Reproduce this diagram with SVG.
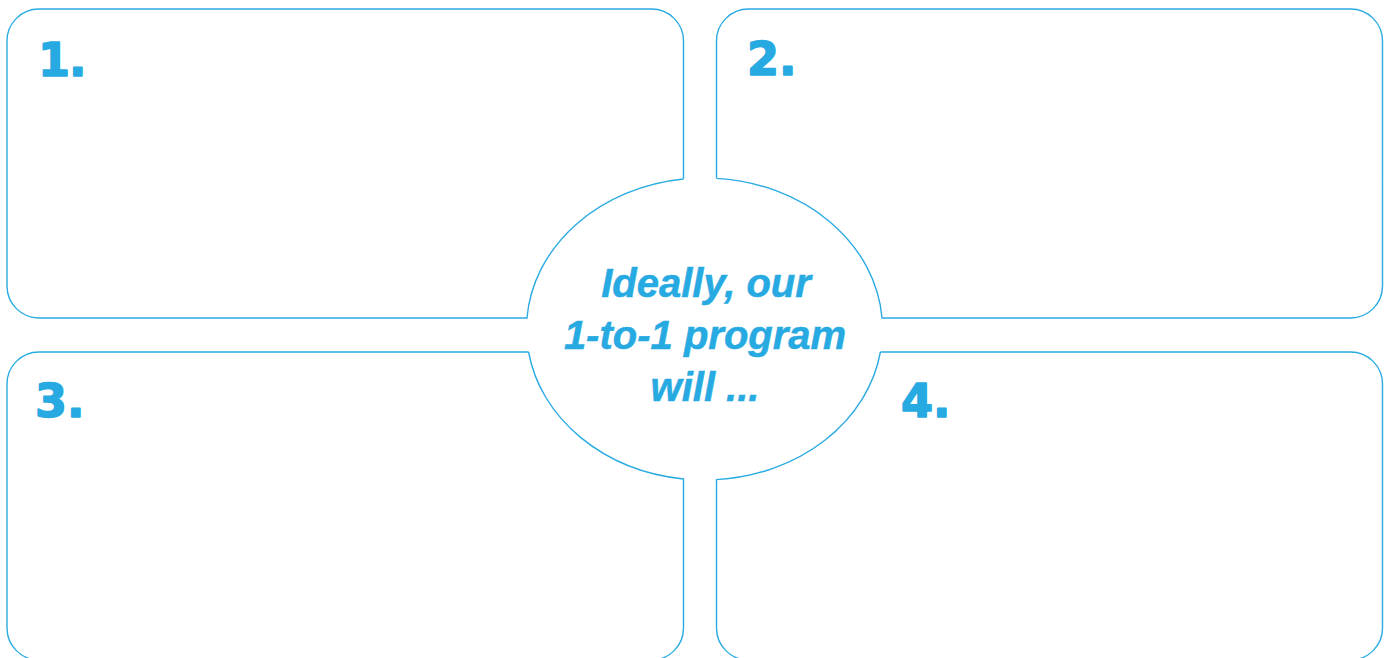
<svg xmlns="http://www.w3.org/2000/svg" width="1387" height="658" viewBox="0 0 1387 658">
  <style>
    .box { fill: none; stroke: #2aabe2; stroke-width: 1.4; }
    .num { font-family: "DejaVu Sans", "Liberation Sans", sans-serif; font-weight: bold; font-size: 46px; fill: #27aae1; stroke: #27aae1; stroke-width: 1.6; stroke-linejoin: round; }
    .center { font-family: "Liberation Sans", Arial, sans-serif; font-weight: bold; font-style: italic; font-size: 40px; fill: #27aae1; stroke: #27aae1; stroke-width: 0.5; text-anchor: middle; }
  </style>
  <rect x="0" y="0" width="1387" height="658" fill="#ffffff"/>
  <g id="box1">
    <path class="box" d="M 683.5 179.05 V 41 A 32 32 0 0 0 651.5 9 H 39 A 32 32 0 0 0 7 41 V 286 A 32 32 0 0 0 39 318 H 526.97 A 178 151 0 0 1 683.5 179.05"/>
    <text class="num" x="38" y="76" letter-spacing="-1">1.</text>
  </g>
  <g id="box2">
    <path class="box" d="M 716.5 178.34 V 41 A 32 32 0 0 1 748.5 9 H 1350.5 A 32 32 0 0 1 1382.5 41 V 286 A 32 32 0 0 1 1350.5 318 H 882.03 A 178 151 0 0 0 716.5 178.34"/>
    <text class="num" x="747" y="75">2.</text>
  </g>
  <g id="box3">
    <path class="box" d="M 528.58 352 H 39 A 32 32 0 0 0 7 384 V 628 A 32 32 0 0 0 39 660 H 651.5 A 32 32 0 0 0 683.5 628 V 478.95 A 178 151 0 0 1 528.58 352"/>
    <text class="num" x="35" y="417">3.</text>
  </g>
  <g id="box4">
    <path class="box" d="M 880.42 352 H 1350.5 A 32 32 0 0 1 1382.5 384 V 628 A 32 32 0 0 1 1350.5 660 H 748.5 A 32 32 0 0 1 716.5 628 V 479.66 A 178 151 0 0 0 880.42 352"/>
    <text class="num" x="901" y="417">4.</text>
  </g>
  <g id="center">
    <text class="center" x="706" y="297">Ideally, our</text>
    <text class="center" x="705" y="349">1-to-1 program</text>
    <text class="center" x="705" y="401">will ...</text>
  </g>
  <g id="connectors"></g>
</svg>
